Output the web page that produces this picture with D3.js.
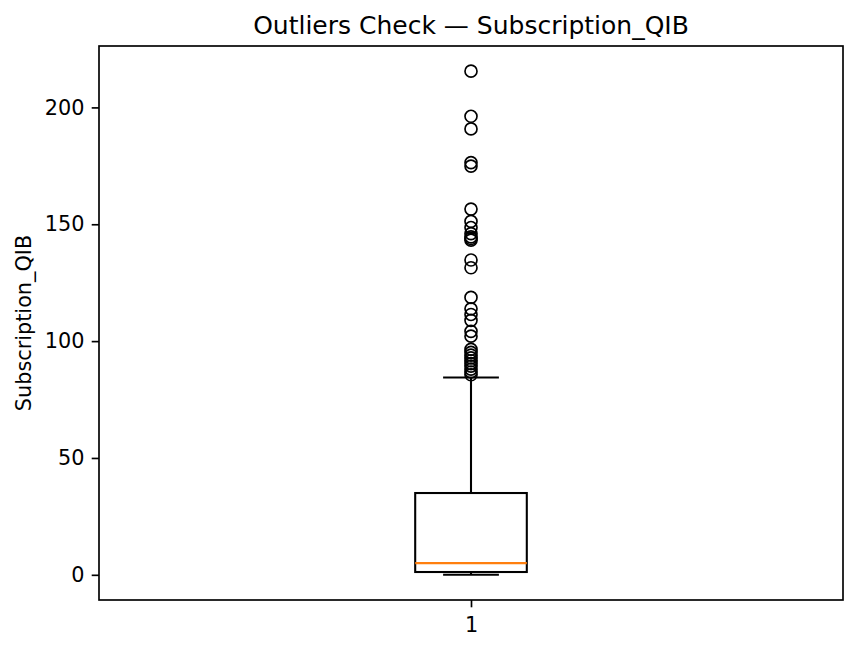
<!DOCTYPE html>
<html>
<head>
<meta charset="utf-8">
<script src="https://cdn.jsdelivr.net/npm/d3@7"></script>
<style>
  body { margin: 0; background: #fff; }
  svg { display: block; font-family: "DejaVu Sans", sans-serif; }
</style>
</head>
<body>
<script>
// Box statistics
const categories = ['1'];
const boxStats = [{ min: 0, q1: 1.2, median: 5, q3: 35, max: 84.4 }];
const outliers = [
  215.5, 196.2, 190.8, 176.4, 174.9, 156.5, 151.2, 148.6, 146.0, 144.6,
  143.9, 143.2, 134.7, 131.4, 118.7, 113.8, 111.4, 108.9, 104.2, 102.1,
  96.5, 95.2, 94.0, 92.8, 91.6, 90.4, 89.3, 88.0, 86.8, 85.6
];
const yTicks = [0, 50, 100, 150, 200];

const width = 857;
const height = 650;
const margin = { top: 46, right: 14, bottom: 50, left: 99 };

const svg = d3.select('body')
  .append('svg')
  .attr('width', width)
  .attr('height', height);

// x: one box at position 1, limits 0.5..1.5 like matplotlib
const x = d3.scaleLinear()
  .domain([0.5, 1.5])
  .range([margin.left, width - margin.right]);

// y: data range plus 5% padding
const dataMax = d3.max(outliers);
const dataMin = d3.min(boxStats, d => d.min);
const pad = (dataMax - dataMin) * 0.05;
const y = d3.scaleLinear()
  .domain([dataMin - pad, dataMax + pad])
  .range([height - margin.bottom, margin.top]);

const tickLen = 7.3;
const fontSize = 20.8;

// y axis
const yAxis = svg.append('g')
  .attr('transform', `translate(${margin.left},0)`)
  .call(d3.axisLeft(y).tickValues(yTicks).tickSize(tickLen).tickPadding(tickLen).tickSizeOuter(0));
yAxis.select('.domain').remove();

// x axis
const xAxis = svg.append('g')
  .attr('transform', `translate(0,${height - margin.bottom})`)
  .call(d3.axisBottom(x).tickValues([1]).tickFormat((d, i) => categories[i])
    .tickSize(tickLen).tickPadding(tickLen + 2.5).tickSizeOuter(0));
xAxis.select('.domain').remove();

svg.selectAll('.tick line').attr('stroke', '#000').attr('stroke-width', 1.67);
svg.selectAll('.tick text')
  .attr('fill', '#000')
  .attr('font-size', fontSize)
  .attr('font-family', '"DejaVu Sans", sans-serif');

// box
const boxW = 0.15;
const capW = boxW / 2;
const lw = 2.08;
const g = svg.append('g');

boxStats.forEach((s, i) => {
  const pos = i + 1;
  // whiskers
  g.append('line')
    .attr('x1', x(pos)).attr('x2', x(pos))
    .attr('y1', y(s.q3)).attr('y2', y(s.max))
    .attr('stroke', '#000').attr('stroke-width', lw);
  g.append('line')
    .attr('x1', x(pos)).attr('x2', x(pos))
    .attr('y1', y(s.q1)).attr('y2', y(s.min))
    .attr('stroke', '#000').attr('stroke-width', lw);
  // caps
  [s.min, s.max].forEach(v => {
    g.append('line')
      .attr('x1', x(pos - capW / 2)).attr('x2', x(pos + capW / 2))
      .attr('y1', y(v)).attr('y2', y(v))
      .attr('stroke', '#000').attr('stroke-width', lw);
  });
  // box
  g.append('rect')
    .attr('x', x(pos - boxW / 2))
    .attr('y', y(s.q3))
    .attr('width', x(pos + boxW / 2) - x(pos - boxW / 2))
    .attr('height', y(s.q1) - y(s.q3))
    .attr('fill', 'none')
    .attr('stroke', '#000')
    .attr('stroke-width', lw);
  // median
  g.append('line')
    .attr('x1', x(pos - boxW / 2)).attr('x2', x(pos + boxW / 2))
    .attr('y1', y(s.median)).attr('y2', y(s.median))
    .attr('stroke', '#ff7f0e').attr('stroke-width', lw);
});

// outliers
g.selectAll('circle')
  .data(outliers)
  .enter()
  .append('circle')
  .attr('cx', x(1))
  .attr('cy', d => y(d))
  .attr('r', 6)
  .attr('fill', 'none')
  .attr('stroke', '#000')
  .attr('stroke-width', 1.67);

// frame
svg.append('rect')
  .attr('x', margin.left)
  .attr('y', margin.top)
  .attr('width', width - margin.left - margin.right)
  .attr('height', height - margin.top - margin.bottom)
  .attr('fill', 'none')
  .attr('stroke', '#000')
  .attr('stroke-width', 1.67);

// title
svg.append('text')
  .text('Outliers Check — Subscription_QIB')
  .attr('x', (margin.left + width - margin.right) / 2)
  .attr('y', margin.top - 12.5)
  .attr('text-anchor', 'middle')
  .attr('font-size', 25)
  .attr('fill', '#000');

// y label
svg.append('text')
  .text('Subscription_QIB')
  .attr('transform', `translate(31,${(margin.top + height - margin.bottom) / 2}) rotate(-90)`)
  .attr('text-anchor', 'middle')
  .attr('font-size', fontSize)
  .attr('fill', '#000');
</script>
</body>
</html>
